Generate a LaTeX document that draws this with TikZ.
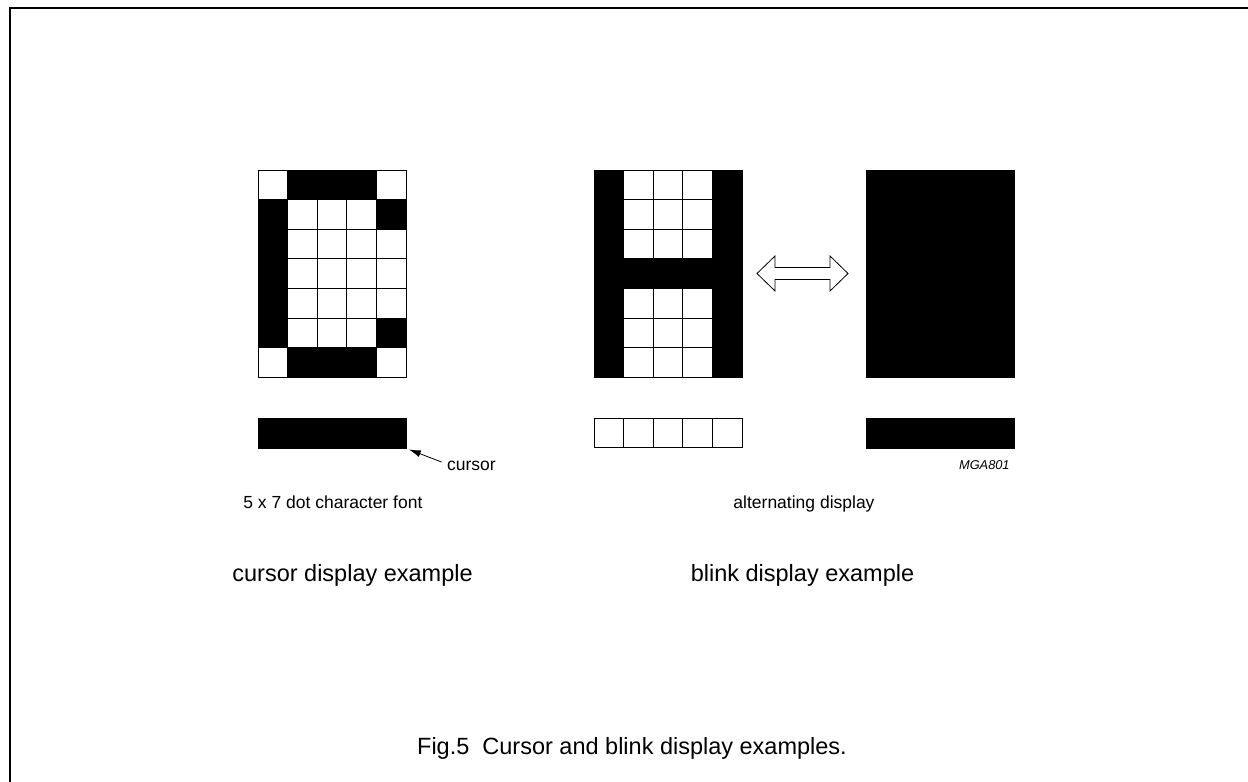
\documentclass[tikz,border=0pt]{standalone}
\usepackage{fontspec}
\setmainfont{Liberation Sans}
\usetikzlibrary{arrows.meta}

\tikzset{
	smalltxt/.style={font=\fontsize{17.5}{20}\selectfont, inner sep=0pt},
	bigtxt/.style={font=\fontsize{23.5}{27}\selectfont, inner sep=0pt},
	tagtxt/.style={font=\fontsize{12.8}{15}\selectfont\itshape, inner sep=0pt},
	bar/.style={draw, fill=black, minimum width=148pt, minimum height=29.6pt, inner sep=0pt, anchor=north west}
}

\begin{document}
\begin{tikzpicture}[x=1pt, y=-1pt, line width=0.8pt]
			\def \cell {29.6}
			\def \gy {170} % top of the grids
			\def \by {418} % top of the bottom bars
			\def \cx {258}
			\def \hx {594}
			\def \bx {866}
			
			\useasboundingbox (0,0) rectangle (1248,782);
			\draw[line width=2pt] (10,782) -- (10,8) -- (1248,8);
			
			% the C
			\foreach \c in {0,...,4}
			{
				\foreach \r in {0,...,6}
					\draw (\cx+\c*\cell, \gy+\r*\cell) rectangle ++(\cell,\cell);
			}
			\foreach \c/\r in {1/0,2/0,3/0,0/1,4/1,0/2,0/3,0/4,0/5,4/5,1/6,2/6,3/6}
				\filldraw (\cx+\c*\cell, \gy+\r*\cell) rectangle ++(\cell,\cell);
			\node[bar] (cbar) at (\cx,\by) {};
			
			% the H and the blinking block
			\foreach \c in {0,...,4}
			{
				\foreach \r in {0,...,6}
					\draw (\hx+\c*\cell, \gy+\r*\cell) rectangle ++(\cell,\cell);
				\draw (\hx+\c*\cell, \by) rectangle ++(\cell,\cell);
			}
			\foreach \r in {0,...,6}
			{
				\filldraw (\hx, \gy+\r*\cell) rectangle ++(\cell,\cell);
				\filldraw (\hx+4*\cell, \gy+\r*\cell) rectangle ++(\cell,\cell);
			}
			\foreach \c in {1,2,3}
				\filldraw (\hx+\c*\cell, \gy+3*\cell) rectangle ++(\cell,\cell);
			\filldraw (\bx,\gy) rectangle ++(5*\cell,7*\cell);
			\node[bar] (bbar) at (\bx,\by) {};
			
			% double arrow between the two states
			\draw[fill=white] (757,273.5) -- (775,256) -- (775,267.5) -- (830,267.5) -- (830,256)
				-- (848,273.5) -- (830,291) -- (830,279.5) -- (775,279.5) -- (775,291) -- cycle;
			
			\node[smalltxt, anchor=base west] (cursortxt) at (446.7,470.7) {cursor};
			\draw[-{Latex[length=12pt,width=7pt]}] ([xshift=-5pt,yshift=4pt]cursortxt.west) -- ([xshift=2pt,yshift=-1pt]cbar.south east);
			\node[tagtxt, anchor=base east] (mga) at (1010,469) {MGA801};
			\node[smalltxt, anchor=base west] (fonttxt) at (243,508.3) {5 x 7 dot character font};
			\node[smalltxt, anchor=base] (alttxt) at (804,508.3) {alternating display};
			\node[bigtxt, anchor=base west] (cursorex) at (232,581.7) {cursor display example};
			\node[bigtxt, anchor=base] (blinkex) at (802.5,581.7) {blink display example};
			\node[bigtxt, anchor=base] (caption) at (632,754.3) {Fig.5~~Cursor and blink display examples.};
\end{tikzpicture}
\end{document}
